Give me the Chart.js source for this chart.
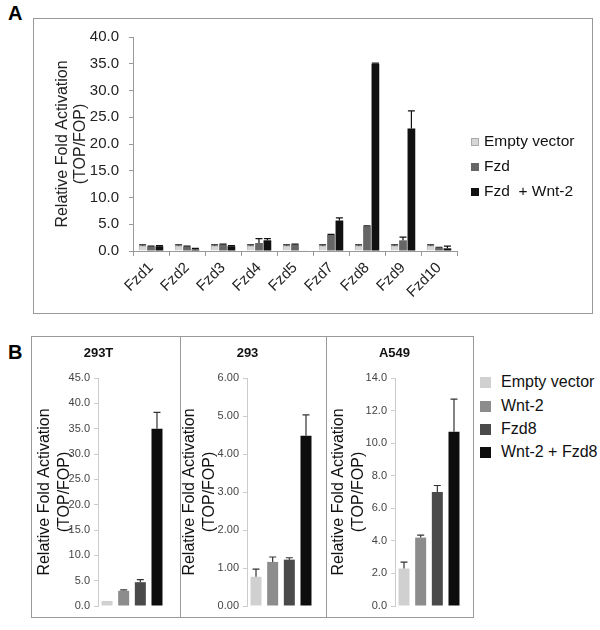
<!DOCTYPE html>
<html>
<head>
<meta charset="utf-8">
<script src="https://cdn.jsdelivr.net/npm/chart.js"></script>
<style>
  body { margin: 0; background: #fff; font-family: "Liberation Sans", Arial, sans-serif; }
  .frame { position: absolute; border: 1px solid #999; box-sizing: border-box; }
  .panelLetter { position: absolute; font-weight: bold; font-size: 20px; color: #000; }
  .leg { position: absolute; font-size: 15.5px; color: #111; line-height: 18px; white-space: nowrap; }
  .leg span { display: inline-block; vertical-align: middle; margin-right: 5px; box-sizing: border-box; }
  canvas { position: absolute; }
</style>
</head>
<body>
<div class="panelLetter" style="left:8px;top:2px;">A</div>
<div class="frame" style="left:33px;top:18px;width:560px;height:296px;"></div>
<canvas id="chartA" style="left:33px;top:18px;" width="559" height="295"></canvas>
<div class="leg" style="left:471px;top:132px;"><span style="width:8px;height:8px;background:#d6d6d6;border:1px solid #aaa"></span>Empty vector</div>
<div class="leg" style="left:471px;top:157px;"><span style="width:8px;height:8px;background:#666;"></span>Fzd</div>
<div class="leg" style="left:471px;top:182px;"><span style="width:8px;height:8px;background:#111;"></span>Fzd&nbsp;&nbsp;+ Wnt-2</div>

<div class="panelLetter" style="left:8px;top:341px;">B</div>
<div class="frame" style="left:31px;top:336px;width:150px;height:282px;"></div>
<div class="frame" style="left:180px;top:336px;width:147px;height:282px;"></div>
<div class="frame" style="left:326px;top:336px;width:148px;height:282px;"></div>
<canvas id="chartB1" style="left:31px;top:336px;" width="149" height="281"></canvas>
<canvas id="chartB2" style="left:180px;top:336px;" width="146" height="281"></canvas>
<canvas id="chartB3" style="left:326px;top:336px;" width="147" height="281"></canvas>
<div class="leg" style="left:480px;top:373px;font-size:16px;"><span style="width:11px;height:11px;background:#d0d0d0;margin-right:10px"></span>Empty vector</div>
<div class="leg" style="left:480px;top:397px;font-size:16px;"><span style="width:11px;height:11px;background:#8c8c8c;margin-right:10px"></span>Wnt-2</div>
<div class="leg" style="left:480px;top:420px;font-size:16px;"><span style="width:11px;height:11px;background:#4a4a4a;margin-right:10px"></span>Fzd8</div>
<div class="leg" style="left:480px;top:443px;font-size:16px;"><span style="width:11px;height:11px;background:#0d0d0d;margin-right:10px"></span>Wnt-2 + Fzd8</div>

<script>
// ---- Panel A data ----
const receptors = ['Fzd1', 'Fzd2', 'Fzd3', 'Fzd4', 'Fzd5', 'Fzd7', 'Fzd8', 'Fzd9', 'Fzd10'];
const emptyA = [1.0, 1.0, 1.0, 1.0, 1.0, 1.0, 1.0, 1.0, 1.0];
const emptyAErr = [0.15, 0.15, 0.15, 0.15, 0.15, 0.15, 0.15, 0.15, 0.15];
const fzdA = [0.8, 0.8, 1.2, 1.5, 1.2, 3.0, 4.6, 2.0, 0.6];
const fzdAErr = [0.1, 0.1, 0.1, 0.8, 0.1, 0.1, 0.1, 0.6, 0.1];
const fzdWntA = [0.9, 0.3, 0.9, 2.0, 0.1, 5.7, 35.0, 22.9, 0.5];
const fzdWntAErr = [0.1, 0.2, 0.1, 0.3, 0.0, 0.5, 0.1, 3.3, 0.4];
const ticksA = [0, 5, 10, 15, 20, 25, 30, 35, 40];

// ---- Panel B data ----
const seriesB = ['Empty vector', 'Wnt-2', 'Fzd8', 'Wnt-2 + Fzd8'];
const cells293T = [1.0, 3.0, 4.7, 35.0];
const cells293TErr = [0.0, 0.2, 0.5, 3.2];
const cells293 = [0.77, 1.16, 1.22, 4.48];
const cells293Err = [0.2, 0.13, 0.05, 0.55];
const cellsA549 = [2.3, 4.2, 7.0, 10.7];
const cellsA549Err = [0.4, 0.15, 0.4, 2.0];

const colorsA = ['#d6d6d6', '#666666', '#111111'];
const colorsB = ['#d0d0d0', '#8c8c8c', '#4a4a4a', '#0d0d0d'];
const FONT = '"Liberation Sans", Arial, sans-serif';

// error bars drawn from each bar through the y scale
const errorBars = {
  id: 'errorBars',
  afterDatasetsDraw(chart, args, opts) {
    const ctx = chart.ctx;
    const y = chart.scales.y;
    ctx.save();
    ctx.strokeStyle = opts.color || '#111';
    ctx.lineWidth = 1.2;
    chart.data.datasets.forEach((ds, i) => {
      if (!ds.err) return;
      const meta = chart.getDatasetMeta(i);
      meta.data.forEach((bar, j) => {
        const e = ds.err[j];
        if (!e) return;
        const yTop = y.getPixelForValue(ds.data[j] + e);
        const yVal = y.getPixelForValue(ds.data[j]);
        ctx.beginPath();
        ctx.moveTo(bar.x, yVal);
        ctx.lineTo(bar.x, yTop);
        ctx.moveTo(bar.x - 3.5, yTop);
        ctx.lineTo(bar.x + 3.5, yTop);
        ctx.stroke();
      });
    });
    ctx.restore();
  }
};

Chart.defaults.font.family = FONT;
Chart.defaults.animation = false;

new Chart(document.getElementById('chartA'), {
  type: 'bar',
  data: {
    labels: receptors,
    datasets: [
      { label: 'Empty vector', data: emptyA, err: emptyAErr, backgroundColor: colorsA[0], borderColor: '#aaa', borderWidth: 1 },
      { label: 'Fzd', data: fzdA, err: fzdAErr, backgroundColor: colorsA[1] },
      { label: 'Fzd  + Wnt-2', data: fzdWntA, err: fzdWntAErr, backgroundColor: colorsA[2] }
    ]
  },
  options: {
    responsive: false,
    layout: { padding: { top: 16, right: 135, left: 0, bottom: 0 } },
    datasets: { bar: { categoryPercentage: 0.7, barPercentage: 0.92 } },
    plugins: { legend: { display: false }, tooltip: { enabled: false }, errorBars: { color: '#111' } },
    scales: {
      x: {
        grid: { drawOnChartArea: false, tickLength: 5, color: '#999' },
        border: { color: '#999' },
        ticks: { autoSkip: false, maxRotation: 45, minRotation: 45, padding: 3, color: '#222', font: { size: 15 } },
        afterFit: s => { s.height = 62; }
      },
      y: {
        min: 0, max: 40,
        afterBuildTicks: s => { s.ticks = ticksA.map(v => ({ value: v })); },
        grid: { drawOnChartArea: false, tickLength: 4, color: '#999' },
        border: { color: '#999' },
        ticks: { padding: 10, color: '#222', font: { size: 15 }, callback: v => v.toFixed(1) },
        title: { display: true, text: ['Relative Fold Activation', '(TOP/FOP)'], color: '#222',
                 font: { size: 16, lineHeight: 1.12 }, padding: { top: 21, bottom: 0 } },
        afterFit: s => { s.width = 100; }
      }
    }
  },
  plugins: [errorBars]
});

function panelB(id, title, values, errs, max, step, digits, axisW, titlePad) {
  new Chart(document.getElementById(id), {
    type: 'bar',
    data: {
      labels: [''],
      datasets: seriesB.map((name, i) => ({
        label: name, data: [values[i]], err: [errs[i]], backgroundColor: colorsB[i]
      }))
    },
    options: {
      responsive: false,
      layout: { padding: { top: 0, right: 0, left: 0, bottom: 11 } },
      datasets: { bar: { categoryPercentage: 0.98, barPercentage: 0.66 } },
      plugins: {
        legend: { display: false }, tooltip: { enabled: false },
        title: { display: true, text: title, color: '#111', font: { size: 13, weight: 'bold', lineHeight: 1.2 },
                 padding: { top: 10, bottom: 16.4 } },
        errorBars: { color: '#333' }
      },
      scales: {
        x: { display: false },
        y: {
          min: 0, max: max,
          ticks: { stepSize: step, padding: 4, color: '#444', font: { size: 11 }, callback: v => v.toFixed(digits) },
          grid: { drawOnChartArea: false, tickLength: 4, color: '#ccc' },
          border: { color: '#ccc' },
          title: { display: true, text: ['Relative Fold Activation', '(TOP/FOP)'], color: '#111',
                   font: { size: 16, lineHeight: 1.25 }, padding: { top: titlePad, bottom: 0 } },
          afterFit: s => { s.width = axisW; }
        }
      }
    },
    plugins: [errorBars, {
      id: 'fixRight',
      beforeLayout(chart) { chart.options.layout.padding.right = chart.width - axisW - 68; }
    }]
  });
}

panelB('chartB1', '293T', cells293T, cells293TErr, 45, 5, 1, 67, 4);
panelB('chartB2', '293', cells293, cells293Err, 6, 1, 2, 67, 0);
panelB('chartB3', 'A549', cellsA549, cellsA549Err, 14, 2, 1, 69, 3);
</script>
</body>
</html>
